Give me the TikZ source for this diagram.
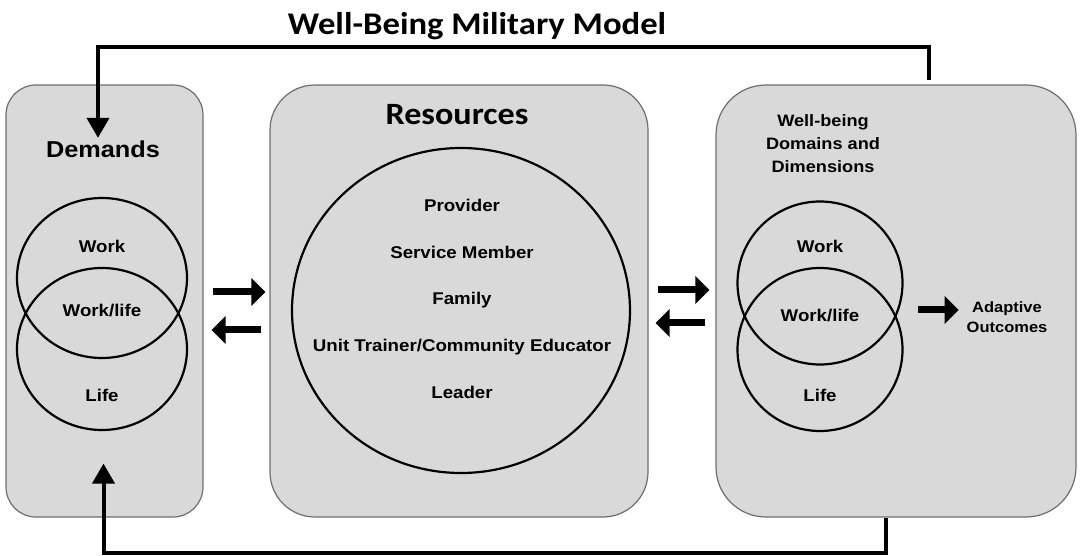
\documentclass[tikz,border=0pt]{standalone}
\usepackage{fontspec}
\setmainfont[FakeStretch=1.1]{Liberation Sans}
\newfontfamily\headfont[FakeStretch=1.1]{Carlito}
\usetikzlibrary{arrows.meta,positioning,calc,shapes.geometric}
\definecolor{boxgrey}{HTML}{D9D9D9}
\definecolor{rimgrey}{HTML}{6E6E6E}
\tikzset{
    >={Triangle[]},
    panel/.style={draw=rimgrey,fill=boxgrey,line width=1.2pt,rounded corners=#1,inner sep=0pt},
    venn/.style={ellipse,draw,line width=2.2pt,inner sep=0pt},
    lbl/.style={anchor=base,inner sep=0pt,font=\fontsize{17}{22}\selectfont\bfseries}
}

\begin{document}
\begin{tikzpicture}[x=1pt,y=-1pt,
        bigarrow/.style={line width=7pt,-{Triangle[length=14pt,width=27pt]}},
        feedback/.style={line width=4pt,-{Triangle[length=20pt,width=22pt]}}]

    \useasboundingbox (0,0) rectangle (1080,556);

    % heading
    \node[anchor=base,font=\headfont\fontsize{31.5}{36}\selectfont\bfseries] (title) at (477,34.5) {Well-Being Military Model};

    % the three panels
    \node[panel=30pt,minimum width=197pt,minimum height=432pt] (demands) at (104.5,301) {};
    \node[panel=45pt,minimum width=378pt,minimum height=432pt] (resources) at (459,301) {};
    \node[panel=50pt,minimum width=360pt,minimum height=432pt] (wellbeing) at (896,301) {};

    % demands
    \node[lbl,inner sep=3pt,font=\fontsize{23}{26}\selectfont\bfseries] (dtitle) at (103,157.7) {Demands};
    \node[venn,minimum width=170pt,minimum height=160pt] (dwork) at (102,278) {};
    \node[venn,minimum width=170pt,minimum height=162pt] (dlife) at (102,349) {};
    \node[lbl] (dworkl) at (102,253) {Work};
    \node[lbl] (dboth) at (102,316.7) {Work/life};
    \node[lbl] (dlifel) at (102,401.7) {Life};

    % resources
    \node[anchor=base,font=\headfont\fontsize{31}{36}\selectfont\bfseries] (rtitle) at (457,125) {Resources};
    \node[venn,minimum width=338pt,minimum height=325pt] (rcircle) at (461,310.5) {};
    \foreach \who [count=\i] in {Provider, Service Member, Family, {Unit Trainer/Community Educator}, Leader}
        \node[lbl] (res\i) at (462,165.05+46.65*\i) {\who};

    % well-being domains (base sits on the last line)
    \node[lbl,align=center,font=\fontsize{16.5}{23}\selectfont\bfseries] (wtitle) at (823,173) {Well-being\\Domains and\\Dimensions};
    \node[venn,minimum width=165pt,minimum height=163pt] (wwork) at (820,283) {};
    \node[venn,minimum width=165pt,minimum height=163pt] (wlife) at (820,349.5) {};
    \node[lbl] (wworkl) at (820,253) {Work};
    \node[lbl] (wboth) at (820,322) {Work/life};
    \node[lbl] (wlifel) at (820,401.7) {Life};

    \node[lbl,align=center,font=\fontsize{15}{20}\selectfont\bfseries] (adaptive) at (1007,333) {Adaptive\\Outcomes};
    \draw[bigarrow] ($(wwork.east)+(14,27)$) -- ++(41,0);

    % exchange between the panels
    \draw[bigarrow] ($(demands.east)+(9,-9)$) -- ($(resources.west)+(-4,-9)$);
    \draw[bigarrow] ($(resources.west)+(-8,29)$) -- ($(demands.east)+(8,29)$);
    \draw[bigarrow] ($(resources.east)+(9,-11)$) -- ($(wellbeing.west)+(-6,-11)$);
    \draw[bigarrow] ($(wellbeing.west)+(-10,22)$) -- ($(resources.east)+(7,22)$);

    % feedback loops
    \draw[feedback] ($(wellbeing.north)+(33,-4)$) -- ++(0,-33) -| ($(dtitle.north)+(-5,0)$);
    \draw[feedback] ($(wellbeing.south)+(-10,0)$) -- ++(0,35) -| ($(demands.south)+(-1,-54)$);
\end{tikzpicture}
\end{document}
